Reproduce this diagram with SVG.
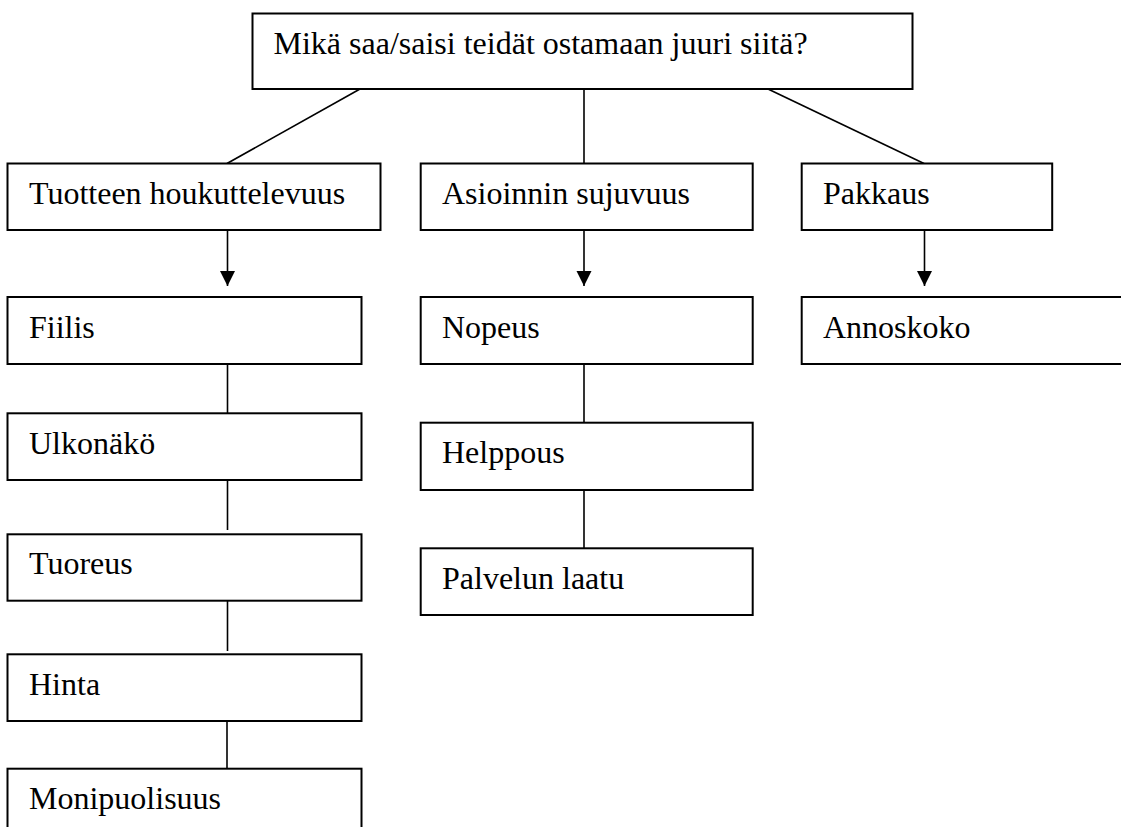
<svg xmlns="http://www.w3.org/2000/svg" width="1121" height="827" viewBox="0 0 1121 827">
<style>
.box{fill:#fff;stroke:#000;stroke-width:2}
.t{font-family:"Liberation Serif","Times New Roman",serif;font-size:32px;fill:#000}
.c{stroke:#000;stroke-width:1.6;fill:none}
</style>
<defs>
<marker id="arr" markerUnits="userSpaceOnUse" markerWidth="16" markerHeight="16" viewBox="0 0 16 16" refX="15" refY="8" orient="auto">
<path d="M0,0.5 L15,8 L0,15.5 Z" fill="#000"/>
</marker>
</defs>
<rect width="1121" height="827" fill="#fff"/>
<g id="connectors">
<line class="c" x1="360" y1="89" x2="227" y2="163.5"/>
<line class="c" x1="584" y1="89" x2="584" y2="163.5"/>
<line class="c" x1="768" y1="89" x2="924" y2="163.5"/>
<line class="c" x1="227.5" y1="230" x2="227.5" y2="286" marker-end="url(#arr)"/>
<line class="c" x1="584" y1="230" x2="584" y2="286" marker-end="url(#arr)"/>
<line class="c" x1="924.5" y1="230" x2="924.5" y2="286" marker-end="url(#arr)"/>
<line class="c" x1="227.5" y1="364" x2="227.5" y2="413"/>
<line class="c" x1="227.5" y1="480" x2="227.5" y2="530"/>
<line class="c" x1="227.5" y1="601" x2="227.5" y2="651"/>
<line class="c" x1="227" y1="719" x2="227" y2="769"/>
<line class="c" x1="584" y1="364" x2="584" y2="423"/>
<line class="c" x1="584" y1="490" x2="584" y2="548"/>
</g>
<g id="n-question"><rect class="box" x="252.5" y="13.5" width="660" height="75.5"/><text class="t" x="273.5" y="53.5">Mikä saa/saisi teidät ostamaan juuri siitä?</text></g>
<g id="n-tuotteen"><rect class="box" x="7.5" y="163.5" width="373" height="66.5"/><text class="t" x="29" y="204">Tuotteen houkuttelevuus</text></g>
<g id="n-asioinnin"><rect class="box" x="420.7" y="163.5" width="332" height="66.5"/><text class="t" x="442" y="204">Asioinnin sujuvuus</text></g>
<g id="n-pakkaus"><rect class="box" x="801.7" y="163.5" width="250.5" height="66.5"/><text class="t" x="823" y="204">Pakkaus</text></g>
<g id="n-fiilis"><rect class="box" x="7.5" y="297" width="354" height="67"/><text class="t" x="29" y="337.5">Fiilis</text></g>
<g id="n-ulkonako"><rect class="box" x="7.5" y="413.3" width="354" height="66.7"/><text class="t" x="29" y="454">Ulkonäkö</text></g>
<g id="n-tuoreus"><rect class="box" x="7.5" y="534.3" width="354" height="66.4"/><text class="t" x="29" y="574">Tuoreus</text></g>
<g id="n-hinta"><rect class="box" x="7.5" y="654.3" width="354" height="66.7"/><text class="t" x="29" y="694.5">Hinta</text></g>
<g id="n-monipuolisuus"><rect class="box" x="7.5" y="768.7" width="354" height="70"/><text class="t" x="29" y="809">Monipuolisuus</text></g>
<g id="n-nopeus"><rect class="box" x="420.7" y="297" width="332" height="67"/><text class="t" x="442" y="337.5">Nopeus</text></g>
<g id="n-helppous"><rect class="box" x="420.7" y="422.7" width="332" height="67.3"/><text class="t" x="442" y="463">Helppous</text></g>
<g id="n-palvelun"><rect class="box" x="420.7" y="548.3" width="332" height="66.7"/><text class="t" x="442" y="588.5">Palvelun laatu</text></g>
<g id="n-annoskoko"><rect class="box" x="801.7" y="297" width="340" height="67"/><text class="t" x="823" y="337.5">Annoskoko</text></g>
</svg>
